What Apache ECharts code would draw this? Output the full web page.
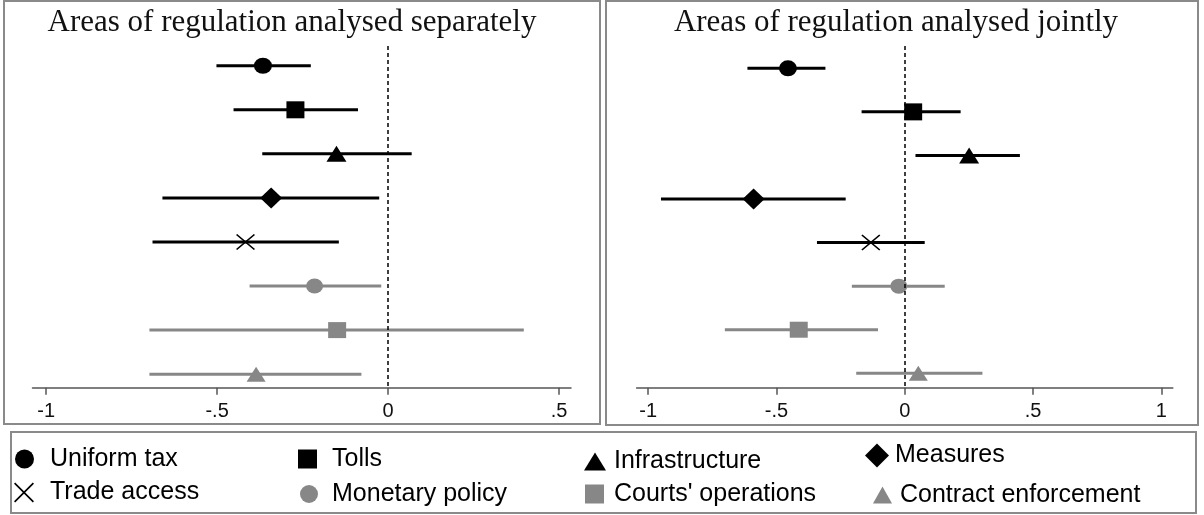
<!DOCTYPE html>
<html><head><meta charset="utf-8">
<script src="https://cdn.jsdelivr.net/npm/echarts@6/dist/echarts.min.js"></script>
<style>html,body{margin:0;padding:0;background:#fff}#c{width:1204px;height:515px}</style>
</head><body><div id="c"></div>
<script>
// ---------- data ----------
const categories = ['Uniform tax','Tolls','Infrastructure','Measures','Trade access','Monetary policy',"Courts' operations",'Contract enforcement'];
const rows = [1,2,3,4,5,6,7,8];
const panelTitles = ['Areas of regulation analysed separately','Areas of regulation analysed jointly'];
// panel 1: analysed separately
const sepEst = [-0.366,-0.271,-0.151,-0.342,-0.417,-0.215,-0.149,-0.386];
const sepLo  = [-0.502,-0.452,-0.368,-0.660,-0.689,-0.405,-0.698,-0.698];
const sepHi  = [-0.226,-0.088, 0.069,-0.026,-0.144,-0.020, 0.397,-0.078];
// panel 2: analysed jointly
const jointEst = [-0.455, 0.033, 0.251,-0.589,-0.132,-0.023,-0.413, 0.053];
const jointLo  = [-0.613,-0.168, 0.042,-0.950,-0.342,-0.206,-0.701,-0.189];
const jointHi  = [-0.309, 0.218, 0.449,-0.230, 0.078, 0.156,-0.104, 0.303];
const sepTicks = [-1,-0.5,0,0.5];
const jointTicks = [-1,-0.5,0,0.5,1];

// ---------- styles ----------
const BLACK = '#000000', GRAY = '#878787';
const X_PATH = 'path://M6,0L50,44L94,0L100,6L56,50L100,94L94,100L50,56L6,100L0,94L44,50L0,6Z';
const markers = [
  {symbol:'circle',   size:[18,16], color:BLACK},
  {symbol:'rect',     size:[18,17], color:BLACK},
  {symbol:'triangle', size:[20,16], color:BLACK},
  {symbol:'diamond',  size:[22,21], color:BLACK},
  {symbol:X_PATH,     size:[19,16], color:BLACK},
  {symbol:'circle',   size:[17,15], color:GRAY},
  {symbol:'rect',     size:[18,16], color:GRAY},
  {symbol:'triangle', size:[19,15], color:GRAY}
];
// legend layout: [iconLeft, iconCenterY, iconW, iconH, textPad]
const legendLayout = [
  [15,456,19,19,11],[298,456,19,19,10],[584,458,22,18,3],[865,455,24,24,1],
  [14,490,20,20,11],[300,491,18,19,9],[585,491,19,19,5],[873,491,19,17,3]
];
const SANS = '"Liberation Sans", Arial, sans-serif';
const SERIF = '"Liberation Serif", "Times New Roman", serif';

const fmt = v => v === 0 ? '0' : (v < 0 ? '-' : '') + String(Math.abs(v)).replace(/^0/, '');

function xAxisFor(idx, min, max, ticks) {
  return {
    type:'value', gridIndex:idx, min:min, max:max,
    axisLine:{show:true, onZero:false, lineStyle:{color:'#555', width:1.5}},
    axisTick:{show:true, length:7, customValues:ticks, lineStyle:{color:'#555', width:1.5}},
    axisLabel:{customValues:ticks, formatter:fmt, margin:14, fontSize:20, color:'#111', fontFamily:SANS},
    splitLine:{show:false}
  };
}

const panels = [
  {est:sepEst, lo:sepLo, hi:sepHi},
  {est:jointEst, lo:jointLo, hi:jointHi}
];

const series = [];
panels.forEach((p, pi) => {
  series.push({
    type:'custom', name:'_ci' + pi, xAxisIndex:pi, yAxisIndex:pi, silent:true, z:2,
    data: rows.map((r, i) => [p.lo[i], p.hi[i], r, i]),
    encode:{x:[0,1], y:2},
    renderItem:(params, api) => {
      const a = api.coord([api.value(0), api.value(2)]);
      const b = api.coord([api.value(1), api.value(2)]);
      const i = api.value(3);
      return {type:'line', shape:{x1:a[0], y1:a[1], x2:b[0], y2:b[1]},
              style:{stroke:markers[i].color, lineWidth:3}};
    }
  });
  categories.forEach((name, i) => {
    const s = {
      type:'scatter', name:name, xAxisIndex:pi, yAxisIndex:pi, silent:true, z:3,
      symbol:markers[i].symbol, symbolSize:markers[i].size,
      itemStyle:{color:markers[i].color, opacity:1},
      data:[[p.est[i], rows[i]]]
    };
    if (i === 0) {
      s.markLine = {silent:true, symbol:['none','none'], label:{show:false}, z:10,
        lineStyle:{color:'#000', type:[4,3], width:1.5}, data:[{xAxis:0}]};
    }
    series.push(s);
  });
});

const legends = categories.map((name, i) => {
  const L = legendLayout[i];
  return {
    left:L[0], top:L[1] - L[3]/2, padding:0, itemGap:0,
    itemWidth:L[2], itemHeight:L[3], selectedMode:false, symbolKeepAspect:false,
    data:[{name:name, icon:markers[i].symbol, itemStyle:{color:markers[i].color}}],
    textStyle:{fontSize:25, fontFamily:SANS, color:'#000', lineHeight:L[3], padding:[0,0,0,L[4]]}
  };
});

const option = {
  animation:false,
  backgroundColor:'#fff',
  title:[
    {text:panelTitles[0], left:292, top:7, padding:0, textAlign:'center',
     textStyle:{fontFamily:SERIF, fontSize:31, fontWeight:'normal', color:'#111', lineHeight:31}},
    {text:panelTitles[1], left:896, top:7, padding:0, textAlign:'center',
     textStyle:{fontFamily:SERIF, fontSize:31, fontWeight:'normal', color:'#111', lineHeight:31}}
  ],
  grid:[
    {left:32.5, top:46, width:538.5, height:341.7},
    {left:636.6, top:46, width:536.2, height:341.7}
  ],
  xAxis:[xAxisFor(0, -1.04, 0.535, sepTicks), xAxisFor(1, -1.045, 1.045, jointTicks)],
  yAxis:[
    {type:'value', gridIndex:0, inverse:true, min:0.552, max:8.307, show:false},
    {type:'value', gridIndex:1, inverse:true, min:0.488, max:8.331, show:false}
  ],
  legend:legends,
  graphic:[
    {type:'rect', silent:true, shape:{x:4, y:1, width:596, height:423}, style:{fill:'none', stroke:'#8a8a8a', lineWidth:2}},
    {type:'rect', silent:true, shape:{x:606, y:1, width:592, height:424}, style:{fill:'none', stroke:'#8a8a8a', lineWidth:2}},
    {type:'rect', silent:true, shape:{x:11, y:432, width:1185, height:81}, style:{fill:'none', stroke:'#8a8a8a', lineWidth:2}}
  ],
  series:series
};

const chart = echarts.init(document.getElementById('c'), null, {renderer:'canvas'});
chart.setOption(option);
</script>
</body></html>
